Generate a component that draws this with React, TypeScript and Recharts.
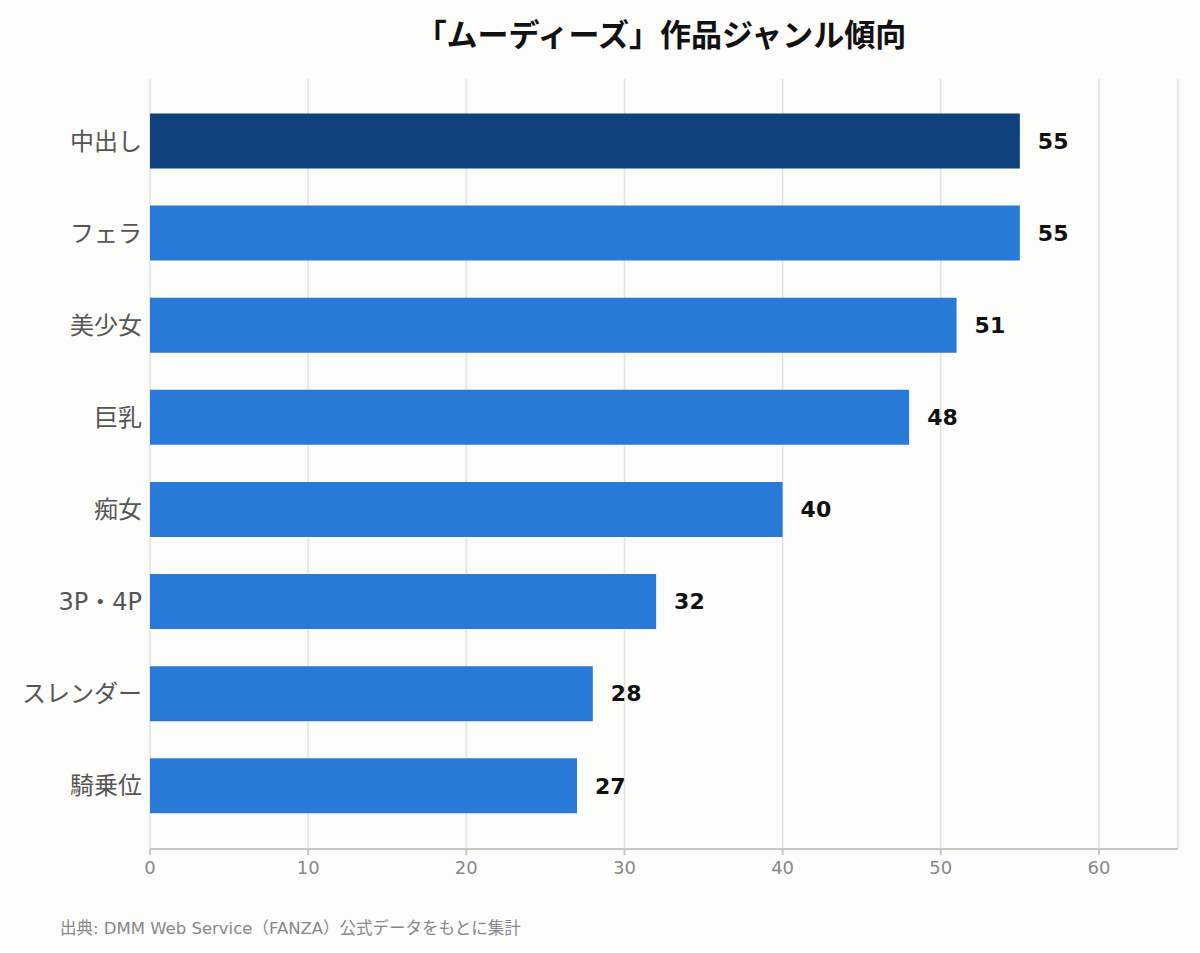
import { BarChart, Bar, XAxis, YAxis, CartesianGrid, Cell, LabelList } from 'recharts';

const genres = ['中出し', 'フェラ', '美少女', '巨乳', '痴女', '3P・4P', 'スレンダー', '騎乗位'];
const counts = [55, 55, 51, 48, 40, 32, 28, 27];
const xTicks = [0, 10, 20, 30, 40, 50, 60];

const data = genres.map((genre, i) => ({ genre, count: counts[i] }));

const FONT = '"DejaVu Sans", "Noto Sans CJK JP", sans-serif';

export default function App() {
    return (
        <div style={{ position: 'absolute', left: 0, top: 0, width: 1200, height: 953, background: '#FCFCFA', fontFamily: FONT }}>
            <div style={{ position: 'absolute', left: 147, width: 1028, top: 12, textAlign: 'center', fontSize: 31, fontWeight: 700, color: '#111', lineHeight: '46px' }}>
                「ムーディーズ」作品ジャンル傾向
            </div>
            <BarChart
                width={1200}
                height={953}
                layout="vertical"
                data={data}
                margin={{ top: 79, right: 22, left: 0, bottom: 74 }}
                barCategoryGap="20%"
            >
                <CartesianGrid horizontal={false} stroke="#E2E2DE" strokeWidth={1.5} />
                <XAxis
                    type="number"
                    domain={[0, 65]}
                    ticks={xTicks}
                    height={30}
                    stroke="#C8C8C0"
                    strokeWidth={2}
                    tickSize={6}
                    tickMargin={6}
                    tick={{ fill: '#888', fontSize: 18, fontFamily: FONT }}
                />
                <YAxis
                    type="category"
                    dataKey="genre"
                    width={150}
                    axisLine={false}
                    tickLine={false}
                    tickMargin={2}
                    padding={{ top: 16, bottom: 17 }}
                    tick={{ fill: '#555', fontSize: 24, fontFamily: FONT }}
                />
                <Bar dataKey="count" isAnimationActive={false}>
                    {data.map((d, i) => (
                        <Cell key={d.genre} fill={i === 0 ? '#10417F' : '#2979D6'} />
                    ))}
                    <LabelList
                        dataKey="count"
                        position="right"
                        offset={18}
                        style={{ fill: '#111', fontSize: 22, fontWeight: 700, fontFamily: FONT }}
                    />
                </Bar>
            </BarChart>
            <div style={{ position: 'absolute', left: 60, top: 917, fontSize: 16.5, color: '#888', lineHeight: '24px' }}>
                出典: DMM Web Service（FANZA）公式データをもとに集計
            </div>
        </div>
    );
}
